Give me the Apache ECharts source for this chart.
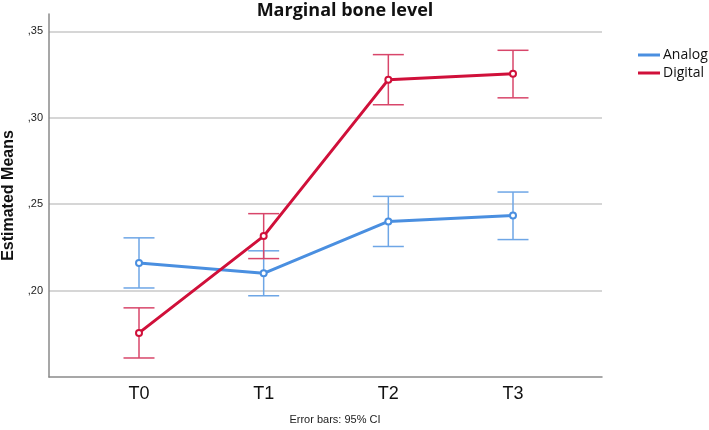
<!DOCTYPE html>
<html>
<head>
<meta charset="utf-8">
<script src="https://cdn.jsdelivr.net/npm/echarts@6/dist/echarts.min.js"></script>
<style>
  html, body { margin: 0; padding: 0; background: #fff; }
  #chart { width: 709px; height: 430px; }
</style>
</head>
<body>
<div id="chart"></div>
<script>
const categories = ["T0", "T1", "T2", "T3"]
const yTicks = [0.20, 0.25, 0.30, 0.35]

const analogMean = [0.216, 0.210, 0.240, 0.2435]
const analogLow = [0.2015, 0.197, 0.2255, 0.2295]
const analogHigh = [0.2305, 0.223, 0.2545, 0.257]

const digitalMean = [0.1755, 0.2315, 0.322, 0.3255]
const digitalLow = [0.161, 0.2185, 0.3075, 0.3115]
const digitalHigh = [0.190, 0.2445, 0.3365, 0.339]

const blue = "#4a8fe0"
const blueBar = "#6ea6e6"
const red = "#d0103a"
const redBar = "#d8466a"

const bars = (low, high) => categories.map((c, i) => [i, low[i], high[i]])

const errorBar = color => (params, api) => {
  const x = api.value(0)
  const top = api.coord([x, api.value(2)])
  const bot = api.coord([x, api.value(1)])
  const w = 15.5
  const style = {stroke: color, lineWidth: 1.5}
  return {
    type: "group",
    children: [
      {type: "line", shape: {x1: top[0], y1: top[1], x2: bot[0], y2: bot[1]}, style},
      {type: "line", shape: {x1: top[0] - w, y1: top[1], x2: top[0] + w, y2: top[1]}, style},
      {type: "line", shape: {x1: bot[0] - w, y1: bot[1], x2: bot[0] + w, y2: bot[1]}, style}
    ]
  }
}

const chart = echarts.init(document.getElementById("chart"))
chart.setOption({
  animation: false,
  graphic: [
    {type: "text", x: 345, y: 2, style: {text: "Marginal bone level", align: "center", font: "bold 18px 'Open Sans'", fill: "#111"}},
    {type: "text", x: 335, y: 414, style: {text: "Error bars: 95% CI", align: "center", font: "11px 'Liberation Sans'", fill: "#222"}}
  ],
  legend: {
    orient: "vertical",
    left: 633,
    top: 43,
    itemGap: 4,
    itemWidth: 22,
    itemHeight: 3,
    icon: "rect",
    textStyle: {fontSize: 14, fontFamily: "Open Sans", color: "#111", padding: [0, 0, 0, -2]},
    data: ["Analog", "Digital"]
  },
  grid: [
    {left: 49, right: 107, top: 14, bottom: 53, containLabel: false, outerBoundsMode: "none"},
    {left: 139, right: 196, top: 14, bottom: 53, containLabel: false, outerBoundsMode: "none"}
  ],
  xAxis: [
    {
      gridIndex: 0, type: "value", min: 0, max: 1,
      axisLine: {show: true, lineStyle: {color: "#8a8a8a", width: 1.5}},
      axisTick: {show: false}, axisLabel: {show: false}, splitLine: {show: false}
    },
    {
      gridIndex: 1, type: "category", data: categories, boundaryGap: false,
      axisLine: {show: false}, axisTick: {show: false},
      axisLabel: {fontSize: 18, fontFamily: "Liberation Sans", color: "#111", margin: 8}
    }
  ],
  yAxis: [
    {
      gridIndex: 0, type: "value", min: 0.15, max: 0.36, interval: 0.05,
      name: "Estimated Means", nameLocation: "middle", nameGap: 31,
      nameTextStyle: {fontSize: 16, fontWeight: "bold", fontFamily: "Liberation Sans", color: "#111"},
      axisLine: {show: true, lineStyle: {color: "#8a8a8a", width: 1.5}},
      axisTick: {show: false},
      axisLabel: {
        fontSize: 11, fontFamily: "Liberation Sans", color: "#222", margin: 6,
        formatter: v => yTicks.some(t => Math.abs(t - v) < 1e-6) ? "," + Math.round(v * 100) : ""
      },
      splitLine: {show: true, lineStyle: {color: ["transparent", "#c8c8c8", "#c8c8c8", "#c8c8c8", "#c8c8c8", "transparent"], width: 1.5}}
    },
    {gridIndex: 1, type: "value", min: 0.15, max: 0.36, show: false}
  ],
  series: [
    {
      type: "custom", xAxisIndex: 1, yAxisIndex: 1,
      renderItem: errorBar(blueBar), data: bars(analogLow, analogHigh),
      encode: {x: 0, y: [1, 2]}, z: 1
    },
    {
      type: "custom", xAxisIndex: 1, yAxisIndex: 1,
      renderItem: errorBar(redBar), data: bars(digitalLow, digitalHigh),
      encode: {x: 0, y: [1, 2]}, z: 1
    },
    {
      name: "Analog", type: "line", xAxisIndex: 1, yAxisIndex: 1, data: analogMean,
      symbol: "emptyCircle", symbolSize: 6, color: blue,
      lineStyle: {width: 3, color: blue}, itemStyle: {color: blue, borderWidth: 1.2}, z: 2
    },
    {
      name: "Digital", type: "line", xAxisIndex: 1, yAxisIndex: 1, data: digitalMean,
      symbol: "emptyCircle", symbolSize: 6, color: red,
      lineStyle: {width: 3, color: red}, itemStyle: {color: red, borderWidth: 1.2}, z: 3
    }
  ]
})
</script>
</body>
</html>
